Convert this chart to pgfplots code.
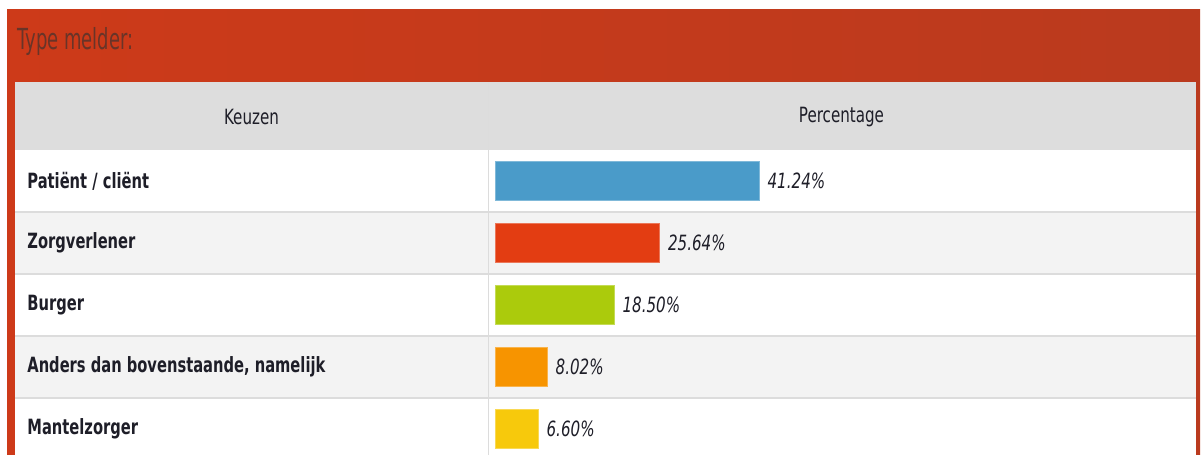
\documentclass[border=0pt]{standalone}
\usepackage{pgfplots}
\pgfplotsset{compat=1.18}
\usepackage{fontspec}
\setmainfont{DejaVu Sans}[FakeStretch=0.72]
\newfontfamily\titlefont{DejaVu Sans}[FakeStretch=0.62]
\newfontfamily\labelfont{DejaVu Sans}[FakeStretch=0.70]

\definecolor{panelL}{RGB}{205,58,25}
\definecolor{panelR}{RGB}{186,58,30}
\definecolor{headgray}{RGB}{221,221,221}
\definecolor{rowgray}{RGB}{243,243,243}
\definecolor{linegray}{RGB}{220,220,220}
\definecolor{titletxt}{RGB}{105,52,40}
\definecolor{txt}{RGB}{30,30,40}
\definecolor{barblue}{RGB}{74,155,201}
\definecolor{barred}{RGB}{227,61,18}
\definecolor{bargreen}{RGB}{171,203,12}
\definecolor{barorange}{RGB}{247,148,0}
\definecolor{baryellow}{RGB}{247,201,12}

\begin{document}
\begin{tikzpicture}[x=0.5pt,y=-0.5pt]
  % background panel (pixel coordinates)
  \fill[white] (0,0) rectangle (1201,455);
  \shade[left color=panelL, right color=panelR] (7,9) rectangle (1200,455);
  \fill[headgray] (15,82) rectangle (1196,150);
  \fill[white] (15,150) rectangle (1196,455);
  \fill[rowgray] (15,212) rectangle (1196,274);
  \fill[rowgray] (15,336) rectangle (1196,398);
  \foreach \yy in {212,274,336,398}
    \draw[linegray, line width=1pt] (15,\yy) -- (1196,\yy);
  \draw[linegray, line width=0.5pt] (488,82) -- (488,455);
  \node[anchor=west, inner sep=0pt, text=titletxt, font=\titlefont\fontsize{14.5}{16}\selectfont] at (17,41) {Type melder:};
  \node[text=txt, font=\fontsize{10.5}{12}\selectfont] at (251.5,117) {Keuzen};
  \node[text=txt, font=\fontsize{10.5}{12}\selectfont] at (841.5,117) {Percentage};

  \begin{axis}[
      at={(248pt,-75pt)}, anchor=north west,
      width=319pt, height=152.5pt, scale only axis,
      xmin=0, xmax=100, ymin=-0.5, ymax=4.419, y dir=reverse,
      axis line style={draw=none},
      xtick=\empty, ytick={0,1,2,3,4}, major tick length=0pt,
      yticklabels={Patiënt / cliënt, Zorgverlener, Burger, {Anders dan bovenstaande, namelijk}, Mantelzorger},
      yticklabel style={anchor=west, inner sep=0pt, xshift=-234.5pt, text=txt,
        font=\labelfont\fontsize{10.5}{12}\selectfont\bfseries},
      xbar, bar width=19.5pt, bar shift=0pt,
      point meta=explicit symbolic, nodes near coords,
      nodes near coords style={anchor=west, inner sep=0pt, xshift=4pt, text=txt,
        font=\fontsize{10.5}{12}\selectfont\itshape},
      clip=false
    ]
    \addplot[fill=barblue, draw=barblue!70!white, line width=0.5pt] coordinates {(41.24,0) [41.24\%]};
    \addplot[fill=barred, draw=barred!70!white, line width=0.5pt] coordinates {(25.64,1) [25.64\%]};
    \addplot[fill=bargreen, draw=bargreen!70!white, line width=0.5pt] coordinates {(18.50,2) [18.50\%]};
    \addplot[fill=barorange, draw=barorange!70!white, line width=0.5pt] coordinates {(8.02,3) [8.02\%]};
    \addplot[fill=baryellow, draw=baryellow!70!white, line width=0.5pt] coordinates {(6.60,4) [6.60\%]};
  \end{axis}
  \pgfresetboundingbox
  \useasboundingbox (0,0) rectangle (1201,455);
\end{tikzpicture}
\end{document}
